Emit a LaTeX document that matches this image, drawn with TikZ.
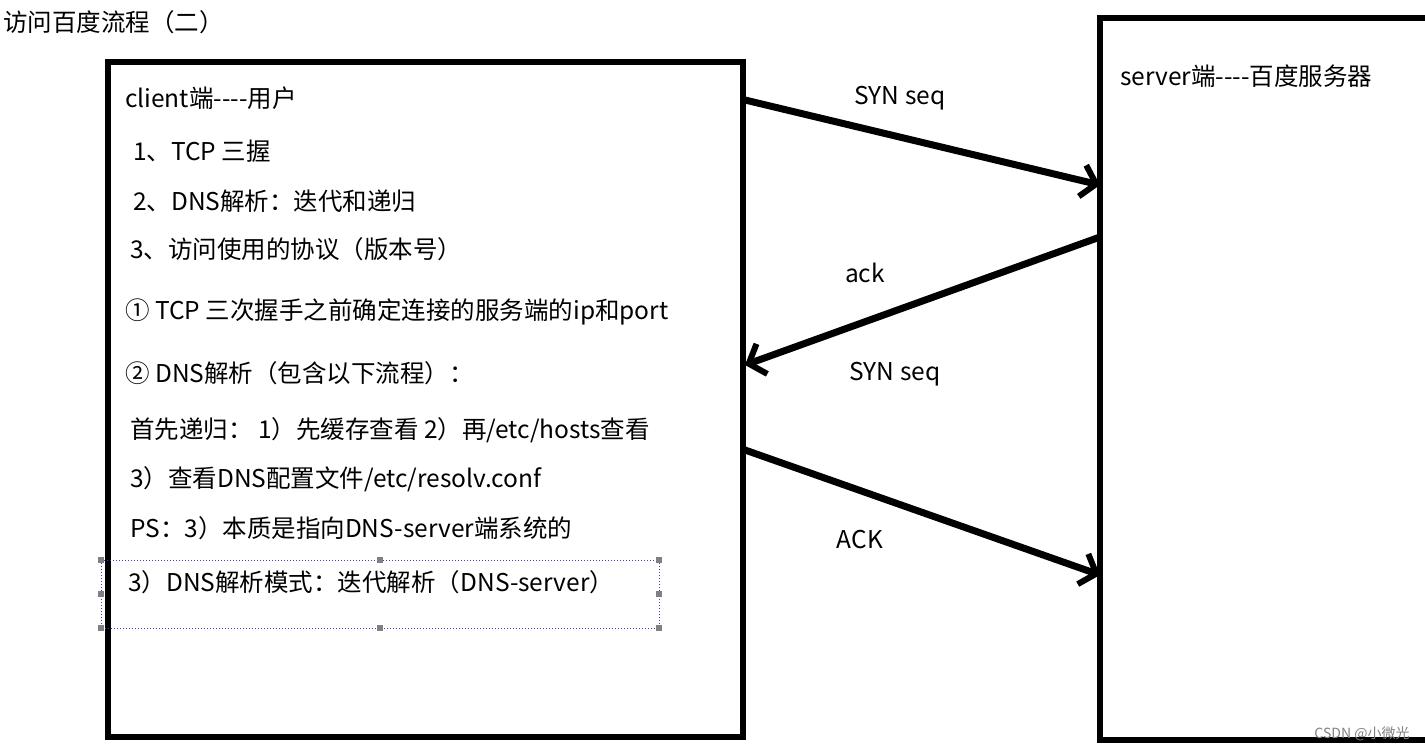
\documentclass[tikz,border=0pt]{standalone}
\usepackage{fontspec}
\setmainfont[Ligatures=NoCommon]{Noto Sans CJK SC}
\usetikzlibrary{arrows.meta}
\newcommand{\dd}{-{}-{}-{}-}
\begin{document}
\begin{tikzpicture}[x=1pt,y=-1pt,
  box/.style={line width=6.5pt},
  arr/.style={line width=7pt,-{Straight Barb[length=14pt,width=32pt,line width=6pt]}},
  t/.style={anchor=west,inner sep=0pt,font=\fontsize{24.5}{28}\selectfont},
  lab/.style={inner sep=0pt,font=\fontsize{24.5}{28}\selectfont}]
\useasboundingbox (0,0) rectangle (1425,752);
\clip (0,0) rectangle (1425,752);
\node[t] (title) at (3,22) {访问百度流程（二）};
\draw[box] (108,62) rectangle (743,737);
\draw[box] (1100,18) rectangle (1440,740);
\coordinate (c1) at (745,100); \coordinate (s1) at (1100,185);
\coordinate (s2) at (1100,237); \coordinate (c2) at (745,365);
\coordinate (c3) at (745,450); \coordinate (s3) at (1100,575);
\draw[arr] (c1) -- (s1);
\draw[arr] (s2) -- (c2);
\draw[arr] (c3) -- (s3);
\node[lab] (l1) at (900,98) {SYN seq};
\node[lab] (l2) at (865,273) {ack};
\node[lab] (l3) at (895,374) {SYN seq};
\node[lab] (l4) at (860,540) {ACK};
\node[t] (a) at (125,98) {client端\dd 用户};
\node[t] (b) at (133,151) {1、TCP 三握};
\node[t] (c) at (133,201) {2、DNS解析：迭代和递归};
\node[t] (d) at (130,249) {3、访问使用的协议（版本号）};
\node[t] (e) at (125,312) {① TCP 三次握手之前确定连接的服务端的ip和port};
\node[t] (f) at (125,373) {② DNS解析（包含以下流程）：};
\node[t] (g) at (130,430) {首先递归： 1）先缓存查看 2）再/etc/hosts查看};
\node[t] (h) at (130,479) {3）查看DNS配置文件/etc/resolv.conf};
\node[t] (i) at (130,528) {PS：3）本质是指向DNS-server端系统的};
\node[t] (j) at (128,582) {3）DNS解析模式：迭代解析（DNS-server）};
\node[t] (k) at (1120,76) {server端\dd 百度服务器};
\draw[dotted,line width=1pt,blue!50!gray] (101,560) rectangle (659,628);
\foreach \p in {(101,560),(380,560),(659,560),(101,594),(659,594),(101,628),(380,628),(659,628)}
  \draw[fill=white,gray] \p ++(-2.5,-2.5) rectangle ++(5,5);
\node[inner sep=0pt,gray,font=\fontsize{14}{16}\selectfont] (w) at (1362,734) {CSDN @小微光};
\end{tikzpicture}
\end{document}
